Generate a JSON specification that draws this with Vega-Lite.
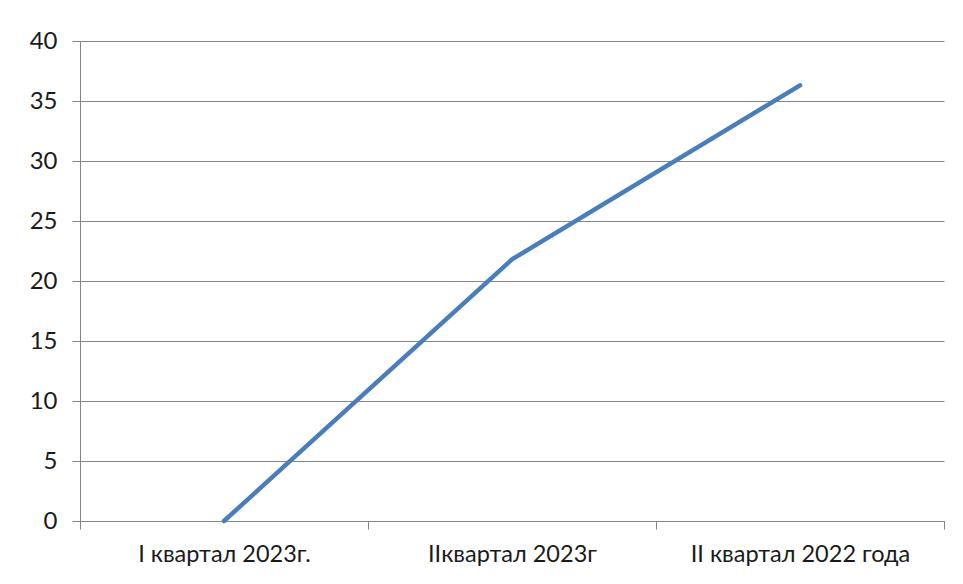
{
  "$schema": "https://vega.github.io/schema/vega-lite/v6.json",
  "autosize": "none",
  "width": 864,
  "height": 480,
  "padding": {"left": 80, "top": 41, "right": 19, "bottom": 63},
  "background": "white",
  "config": {"view": {"stroke": null}, "font": "Lato"},
  "data": {"values": [
    {"period": "I квартал 2023г.", "value": 0},
    {"period": "IIквартал 2023г", "value": 21.8},
    {"period": "II квартал 2022 года", "value": 36.3}
  ]},
  "mark": {"type": "line", "color": "#4A7EBB", "strokeWidth": 4.5, "strokeCap": "round"},
  "encoding": {
    "x": {
      "field": "period", "type": "nominal", "sort": null, "bandPosition": 0.5,
      "scale": {"type": "band", "paddingInner": 0, "paddingOuter": 0},
      "axis": {
        "title": null, "labelAngle": 0, "tickBand": "extent", "grid": false,
        "domainColor": "#868686", "tickColor": "#868686", "tickSize": 8,
        "labelFontSize": 23.5, "labelColor": "#1a1a1a", "labelPadding": 13, "labelFont": "Lato", "labelLimit": 400
      }
    },
    "y": {
      "field": "value", "type": "quantitative",
      "scale": {"domain": [0, 40], "nice": false},
      "axis": {
        "title": null, "values": [0, 5, 10, 15, 20, 25, 30, 35, 40],
        "grid": true, "gridColor": "#868686", "gridWidth": 1,
        "domainColor": "#868686", "tickColor": "#868686", "tickSize": 8,
        "labelFontSize": 24, "labelColor": "#1a1a1a", "labelPadding": 15, "labelFont": "Lato"
      }
    }
  }
}
